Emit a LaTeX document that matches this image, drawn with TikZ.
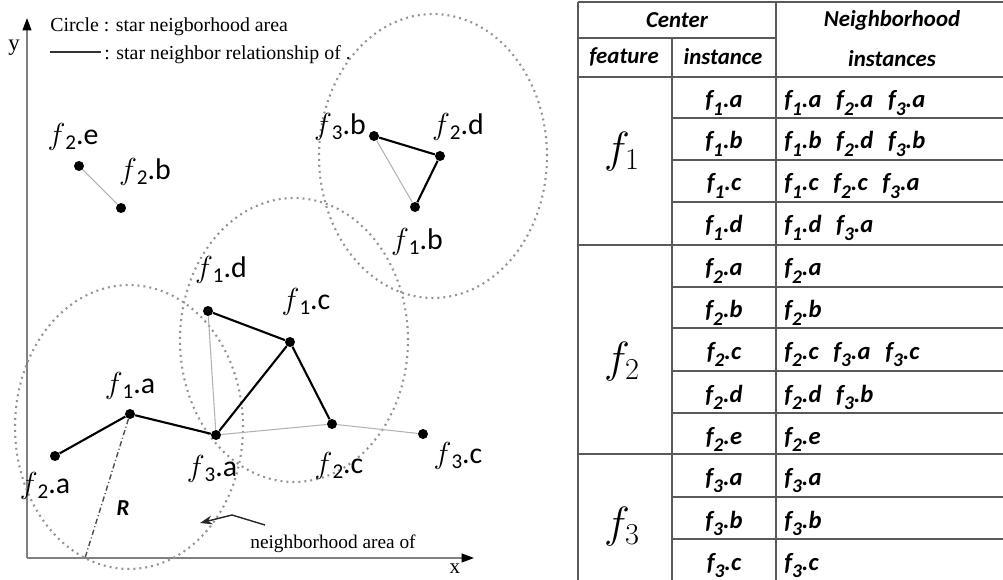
\documentclass[tikz,border=0pt]{standalone}
\usepackage{fontspec}
\setmainfont{Liberation Serif}
\newfontfamily\calibri{Carlito}
\usetikzlibrary{arrows.meta}

\newcommand{\ptlab}[2]{$f$\raisebox{-0.35ex}{\fontsize{12}{12}\selectfont #1}.#2}
\newcommand{\tabins}[2]{\textit{f}\raisebox{-0.6ex}{\fontsize{11}{11}\selectfont #1}.#2}

\begin{document}
\begin{tikzpicture}[x=0.02cm, y=-0.02cm,
    every node/.style={inner sep=0pt},
    spot/.style={circle, fill=black, minimum size=0.2cm},
    ptlabel/.style={font=\calibri\fontsize{17}{19}\selectfont},
    strong/.style={line width=1.2pt, black},
    weak/.style={line width=0.6pt, gray!60},
    area/.style={gray!85, line width=1.2pt, dash pattern=on 1.1pt off 2.3pt},
    axis/.style={gray, line width=0.8pt, -{Triangle[black, length=7pt, width=5pt]}},
    note/.style={font=\fontsize{11.3}{13}\selectfont, anchor=base west},
    tabline/.style={gray!70!black, line width=1pt},
    head/.style={font=\calibri\bfseries\itshape\fontsize{13}{15}\selectfont},
    entry/.style={font=\calibri\bfseries\itshape\fontsize{14}{16}\selectfont},
    feat/.style={font=\fontsize{23}{25}\selectfont}]

  \useasboundingbox (0,0) rectangle (1003,580);

  % axes and legend
  \coordinate (o) at (27,558);
  \coordinate (ytip) at (27,18);
  \coordinate (xtip) at (474,558);
  \draw[axis] (o) -- (ytip);
  \draw[axis] (o) -- (xtip);
  \node[font=\fontsize{13}{15}\selectfont] (ylab) at (14,48) {y};
  \node[font=\fontsize{12}{14}\selectfont] (xlab) at (455,569) {x};

  \node[note] (leg1) at (50,32) {Circle : star neigborhood area};
  \coordinate (legA) at (50,52);
  \coordinate (legB) at (101,52);
  \draw[gray!40!black, line width=0.9pt] (legA) -- (legB);
  \node[note] (leg2) at (104,60) {: star neighbor relationship of .};

  % neighborhood areas
  \draw[area] (129,427) ellipse [x radius=2.28cm, y radius=2.84cm];
  \draw[area] (294,340) ellipse [x radius=2.28cm, y radius=2.84cm];
  \draw[area] (433,156) ellipse [x radius=2.28cm, y radius=2.84cm];

  % instances
  \node[spot] (f2e) at (79,166) {};
  \node[spot] (f2b) at (121,208) {};
  \node[spot] (f3b) at (374,136) {};
  \node[spot] (f2d) at (440,156) {};
  \node[spot] (f1b) at (415,207) {};
  \node[spot] (f1d) at (208,311) {};
  \node[spot] (f1c) at (290,342) {};
  \node[spot] (f1a) at (130,414) {};
  \node[spot] (f2a) at (55,456) {};
  \node[spot] (f3a) at (216,435) {};
  \node[spot] (f2c) at (332,424) {};
  \node[spot] (f3c) at (423,434) {};

  \node[ptlabel] (lf2e) at (73,137) {\ptlab{2}{e}};
  \node[ptlabel] (lf2b) at (145,172) {\ptlab{2}{b}};
  \node[ptlabel] (lf3b) at (340,127) {\ptlab{3}{b}};
  \node[ptlabel] (lf2d) at (458,127) {\ptlab{2}{d}};
  \node[ptlabel] (lf1b) at (417,242) {\ptlab{1}{b}};
  \node[ptlabel] (lf1d) at (221,270) {\ptlab{1}{d}};
  \node[ptlabel] (lf1c) at (306,302) {\ptlab{1}{c}};
  \node[ptlabel] (lf1a) at (130,386) {\ptlab{1}{a}};
  \node[ptlabel] (lf2a) at (45,486) {\ptlab{2}{a}};
  \node[ptlabel] (lf3a) at (212,469) {\ptlab{3}{a}};
  \node[ptlabel] (lf2c) at (339,466) {\ptlab{2}{c}};
  \node[ptlabel] (lf3c) at (458,456) {\ptlab{3}{c}};

  % star neighbor relationships
  \draw[weak] (f2e) -- (f2b);
  \draw[weak] (f3b) -- (f1b);
  \draw[weak] (f1d) -- (f3a);
  \draw[weak] (f3a) -- (f2c);
  \draw[weak] (f2c) -- (f3c);
  \draw[strong] (f2a) -- (f1a);
  \draw[strong] (f1a) -- (f3a);
  \draw[strong] (f1d) -- (f1c);
  \draw[strong] (f1c) -- (f3a);
  \draw[strong] (f1c) -- (f2c);
  \draw[strong] (f3b) -- (f2d);
  \draw[strong] (f2d) -- (f1b);

  % radius and pointer
  \coordinate (rend) at (85,558);
  \draw[gray!60!black, line width=0.8pt, dash pattern=on 3pt off 1.5pt on 0.6pt off 1.5pt] (f1a) -- (rend);
  \node[font=\calibri\bfseries\itshape\fontsize{13}{15}\selectfont] (rlab) at (123,508) {R};

  \coordinate (arrS) at (265,525);
  \coordinate (arrK) at (232,515);
  \coordinate (arrE) at (200,523);
  \draw[gray!30!black, line width=0.8pt, -{Stealth[length=7pt, width=5pt]}] (arrS) -- (arrK) -- (arrE);
  \node[note, font=\fontsize{11}{13}\selectfont] (arealab) at (250,548) {neighborhood area of};

  % table
  \draw[tabline] (578,2) -- (1003,2);
  \draw[tabline] (578,2) -- (578,580);
  \draw[tabline] (776,2) -- (776,580);
  \draw[tabline] (672,38) -- (672,580);
  \draw[tabline] (578,38) -- (776,38);
  \foreach \ly in {77,245,454}
    \draw[tabline] (578,\ly) -- (1003,\ly);
  \foreach \ly in {118,160,202,287,328,371,413,497,539}
    \draw[tabline] (672,\ly) -- (1003,\ly);

  \node[head] (hcen) at (677,20) {Center};
  \node[head] (hfeat) at (624,57) {feature};
  \node[head] (hinst) at (723,57) {instance};
  \node[head] (hnb1) at (892,20) {Neighborhood};
  \node[head] (hnb2) at (892,59) {instances};

  \node[feat] (g1) at (622,152) {$f_1$};
  \node[feat] (g2) at (622,362) {$f_2$};
  \node[feat] (g3) at (622,527) {$f_3$};

  \foreach \ytop/\cen/\nbr [count=\i] in {
      77/{\tabins{1}{a}}/{\tabins{1}{a}\hspace{0.6em}\tabins{2}{a}\hspace{0.6em}\tabins{3}{a}},
      118/{\tabins{1}{b}}/{\tabins{1}{b}\hspace{0.6em}\tabins{2}{d}\hspace{0.6em}\tabins{3}{b}},
      160/{\tabins{1}{c}}/{\tabins{1}{c}\hspace{0.6em}\tabins{2}{c}\hspace{0.6em}\tabins{3}{a}},
      202/{\tabins{1}{d}}/{\tabins{1}{d}\hspace{0.6em}\tabins{3}{a}},
      245/{\tabins{2}{a}}/{\tabins{2}{a}},
      287/{\tabins{2}{b}}/{\tabins{2}{b}},
      328/{\tabins{2}{c}}/{\tabins{2}{c}\hspace{0.6em}\tabins{3}{a}\hspace{0.6em}\tabins{3}{c}},
      371/{\tabins{2}{d}}/{\tabins{2}{d}\hspace{0.6em}\tabins{3}{b}},
      413/{\tabins{2}{e}}/{\tabins{2}{e}},
      454/{\tabins{3}{a}}/{\tabins{3}{a}},
      497/{\tabins{3}{b}}/{\tabins{3}{b}},
      539/{\tabins{3}{c}}/{\tabins{3}{c}}} {
    \node[entry, anchor=base] (ins\i) at (724,\ytop+31) {\cen};
    \node[entry, anchor=base west] (nbr\i) at (784,\ytop+31) {\nbr};
  }
\end{tikzpicture}
\end{document}
